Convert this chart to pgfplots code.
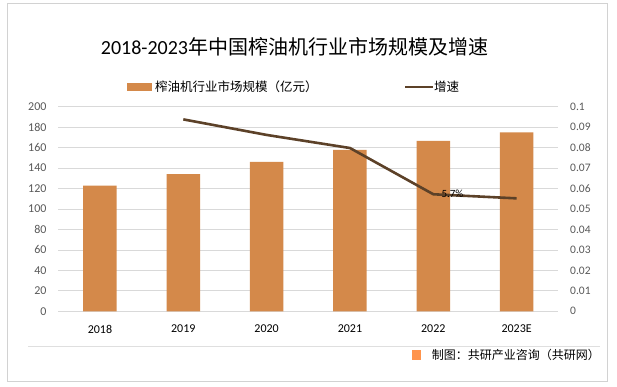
\documentclass[border=0pt]{standalone}
\usepackage{fontspec}
\setmainfont{Carlito}
\newfontfamily\cjk{Noto Sans CJK SC}
\usepackage{pgfplots}
\pgfplotsset{compat=1.18}
\definecolor{barc}{HTML}{D4894A}
\definecolor{linec}{HTML}{5C4128}
\definecolor{gridc}{HTML}{D9D9D9}
\definecolor{tickc}{HTML}{595959}
\begin{document}
\begin{tikzpicture}
\path[fill=white] (0,0) rectangle (617pt,387pt);
\draw[gray!35] (7pt,6pt) rectangle (607pt,384pt);
% title
\node[font=\fontsize{20}{24}\selectfont, anchor=center] at (294.5pt,340pt) {2018-2023{\cjk 年中国榨油机行业市场规模及增速}};
% legend
\fill[barc] (127pt,296pt) rectangle (152pt,304pt);
\node[anchor=west, inner sep=0pt, font=\cjk\fontsize{12.5}{15}\selectfont] at (155pt,300pt) {榨油机行业市场规模（亿元）};
\draw[linec, line width=2.5pt] (405pt,300pt) -- (433pt,300pt);
\node[anchor=west, inner sep=0pt, font=\cjk\fontsize{12.5}{15}\selectfont] at (434pt,300pt) {增速};
% footer
\draw[gray!25, line width=0.8pt] (28pt,41pt) -- (600pt,41pt);
\fill[orange!80!red!70] (412pt,27pt) rectangle (421pt,37pt);
\node[anchor=east, inner sep=0pt, font=\cjk\fontsize{12}{14}\selectfont] at (600pt,32pt) {制图：共研产业咨询（共研网）};
\begin{axis}[at={(58.3pt,75.7pt)}, anchor=south west, scale only axis,
  width=500pt, height=204.6pt,
  xmin=-0.5, xmax=5.5, ymin=0, ymax=200,
  ytick={0,20,...,200}, xtick={0,...,5},
  xticklabels={2018,2019,2020,2021,2022,2023E},
  axis line style={draw=none}, major tick length=0pt,
  ymajorgrids, grid style={gridc, line width=0.8pt},
  /pgf/number format/assume math mode=true,
  tick label style={font=\fontsize{12}{14}\selectfont, text=tickc},
  xticklabel style={yshift=-10pt, text=black},
  yticklabel style={xshift=-8.3pt},
]
\addplot[ybar, bar width=33.5pt, fill=barc, draw=none] coordinates {
 (0,122.8) (1,134.2) (2,146) (3,157.7) (4,166.5) (5,175)};
\end{axis}
\begin{axis}[at={(58.3pt,75.7pt)}, anchor=south west, scale only axis,
  width=500pt, height=204.6pt,
  xmin=-0.5, xmax=5.5, ymin=0, ymax=0.1,
  axis x line=none, axis y line*=right,
  axis line style={draw=none}, major tick length=0pt,
  ytick={0,0.01,...,0.1}, scaled y ticks=false,
  yticklabel style={/pgf/number format/fixed, /pgf/number format/precision=2, xshift=8.4pt},
  /pgf/number format/assume math mode=true,
  tick label style={font=\fontsize{11.5}{14}\selectfont, text=tickc},
]
\addplot[linec, line width=2.6pt, line join=round] coordinates {
 (1,0.0938) (2,0.0862) (3,0.0798) (4,0.0572) (5,0.0552)};
\node[anchor=west, font=\fontsize{11}{13}\selectfont, inner sep=0pt] at (axis cs:4,0.0572) [xshift=8pt] {5.7\%};
\end{axis}
\end{tikzpicture}
\end{document}
